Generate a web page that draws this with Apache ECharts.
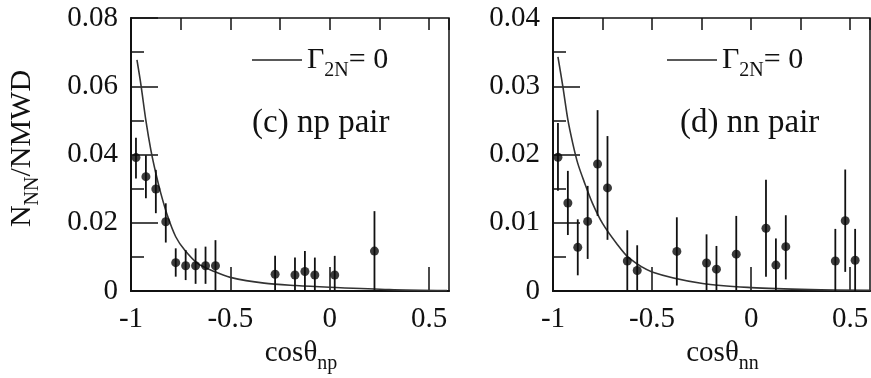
<!DOCTYPE html>
<html>
<head>
<meta charset="utf-8">
<title>N_NN/NMWD vs cos theta</title>
<script src="https://cdn.jsdelivr.net/npm/echarts@6/dist/echarts.min.js"></script>
<style>
  html, body { margin: 0; padding: 0; background: #fff; }
  #chart { width: 871px; height: 378px; }
</style>
</head>
<body>
<div id="chart"></div>
<script>
// (c) np pair -- data points (bin centres), values and error bar ends
const npX  = [-0.975, -0.925, -0.875, -0.825, -0.775, -0.725, -0.675, -0.625, -0.575, -0.275, -0.175, -0.125, -0.075, 0.025, 0.225];
const npY  = [0.0391, 0.0335, 0.0299, 0.0203, 0.0083, 0.0074, 0.0074, 0.0074, 0.0074, 0.0049, 0.0047, 0.0057, 0.0047, 0.0047, 0.0117];
const npLo = [0.0330, 0.0272, 0.0228, 0.0142, 0.0042, 0.0032, 0.0021, 0.0021, 0.0, 0.0, 0.0, 0.0, 0.0, 0.0, 0.0];
const npHi = [0.0449, 0.0398, 0.0355, 0.0257, 0.0125, 0.0120, 0.0125, 0.0130, 0.0149, 0.0103, 0.0098, 0.0117, 0.0098, 0.0103, 0.0234];
// Gamma_2N = 0 curve
const npCurveX = [-0.970, -0.950, -0.925, -0.900, -0.875, -0.850, -0.815, -0.775, -0.730, -0.665, -0.580, -0.500, -0.330, -0.170, 0.0, 0.3, 0.59];
const npCurveY = [0.0677, 0.0604, 0.0499, 0.0413, 0.0345, 0.0286, 0.0218, 0.0159, 0.0120, 0.0081, 0.0057, 0.0040, 0.0023, 0.0016, 0.0011, 0.0004, 0.0001];

// (d) nn pair
const nnX  = [-0.975, -0.925, -0.875, -0.825, -0.775, -0.725, -0.625, -0.575, -0.375, -0.225, -0.175, -0.075, 0.075, 0.125, 0.175, 0.425, 0.475, 0.525];
const nnY  = [0.0196, 0.0129, 0.0064, 0.0102, 0.0186, 0.0151, 0.0044, 0.0030, 0.0058, 0.0041, 0.0032, 0.0054, 0.0092, 0.0038, 0.0065, 0.0044, 0.0103, 0.0045];
const nnLo = [0.0147, 0.0082, 0.0023, 0.0047, 0.0110, 0.0075, 0.0, 0.0, 0.0008, 0.0, 0.0, 0.0, 0.0021, 0.0, 0.0017, 0.0, 0.0028, 0.0];
const nnHi = [0.0246, 0.0176, 0.0105, 0.0154, 0.0265, 0.0227, 0.0089, 0.0067, 0.0108, 0.0083, 0.0066, 0.0110, 0.0163, 0.0077, 0.0111, 0.0091, 0.0178, 0.0091];
const nnCurveX = [-0.975, -0.950, -0.925, -0.900, -0.875, -0.840, -0.800, -0.750, -0.680, -0.615, -0.500, -0.245, 0.0, 0.3, 0.6];
const nnCurveY = [0.0343, 0.0299, 0.0251, 0.0216, 0.0187, 0.0158, 0.0128, 0.0099, 0.0070, 0.0048, 0.0028, 0.0011, 0.0005, 0.0002, 0.0001];

// axes
const xMin = -1, xMax = 0.6, xMajor = 0.5, xMinor = 0.25;
const npYMax = 0.08, npYStep = 0.02;
const nnYMax = 0.04, nnYStep = 0.01;

const curveName = 'Γ2N= 0';
const FONT = 'Liberation Serif';
const INK = '#111';

function zip(a, b) {
  return a.map((v, i) => [v, b[i]]);
}

function xAxes(gridIndex, subscript) {
  return [
    {
      type: 'value', gridIndex: gridIndex, min: xMin, max: xMax, interval: xMajor,
      axisLine: { onZero: false, lineStyle: { color: INK, width: 2 } },
      axisTick: { inside: true, length: 24, lineStyle: { color: INK, width: 1.5 } },
      axisLabel: { showMaxLabel: false, margin: 14, color: INK, fontFamily: FONT, fontSize: 29 },
      splitLine: { show: false },
      name: 'cosθ{s|' + subscript + '}',
      nameLocation: 'middle',
      nameGap: 42,
      nameTextStyle: {
        color: INK, fontFamily: FONT, fontSize: 29, padding: [0, 0, 0, 22],
        rich: { s: { fontFamily: FONT, fontSize: 20, color: INK, padding: [20, 0, 0, 0] } }
      }
    },
    {
      // minor ticks only
      type: 'value', gridIndex: gridIndex, min: xMin, max: xMax, interval: xMinor,
      axisLine: { show: false, onZero: false },
      axisTick: { inside: true, length: 12, lineStyle: { color: INK, width: 1.5 } },
      axisLabel: { show: false },
      splitLine: { show: false }
    }
  ];
}

function yAxis(gridIndex, max, step, withName) {
  const ax = {
    type: 'value', gridIndex: gridIndex, min: 0, max: max, interval: step,
    axisLine: { show: true, onZero: false, lineStyle: { color: INK, width: 2 } },
    axisTick: { inside: true, length: 27, lineStyle: { color: INK, width: 1.5 } },
    minorTick: { show: true, splitNumber: 2, length: 13, lineStyle: { color: INK, width: 1.5 } },
    axisLabel: { margin: 13, color: INK, fontFamily: FONT, fontSize: 29 },
    splitLine: { show: false }
  };
  if (withName) {
    ax.name = 'N{s|NN}/NMWD';
    ax.nameLocation = 'middle';
    ax.nameGap = 88;
    ax.nameTextStyle = {
      color: INK, fontFamily: FONT, fontSize: 30, padding: [0, 0, 0, 12],
      rich: { s: { fontFamily: FONT, fontSize: 20, color: INK, padding: [22, 0, 0, 0] } }
    };
  }
  return ax;
}

// vertical error bars, drawn through the axis scales
function errorSeries(xi, yi, xs, lo, hi) {
  return {
    type: 'custom',
    xAxisIndex: xi, yAxisIndex: yi,
    data: xs.map((x, i) => [x, lo[i], hi[i]]),
    clip: true,
    renderItem: function (params, api) {
      const a = api.coord([api.value(0), api.value(1)]);
      const b = api.coord([api.value(0), api.value(2)]);
      return {
        type: 'line',
        shape: { x1: a[0], y1: a[1], x2: b[0], y2: b[1] },
        style: { stroke: INK, lineWidth: 1.8 }
      };
    },
    z: 3
  };
}

function panelSeries(xi, yi, xs, ys, lo, hi, cx, cy) {
  return [
    {
      name: curveName, type: 'line', xAxisIndex: xi, yAxisIndex: yi,
      data: zip(cx, cy), smooth: 0.3,
      symbol: 'none', lineStyle: { color: '#333', width: 1.6 }, z: 2
    },
    errorSeries(xi, yi, xs, lo, hi),
    {
      type: 'scatter', xAxisIndex: xi, yAxisIndex: yi,
      data: zip(xs, ys), symbol: 'circle', symbolSize: 9,
      itemStyle: { color: '#0a0a0a' }, z: 4
    }
  ];
}

function legendAt(left) {
  return {
    left: left, top: 45, padding: 0,
    data: [curveName],
    icon: 'rect', itemWidth: 50, itemHeight: 1.6,
    itemStyle: { color: '#222' },
    selectedMode: false,
    formatter: function () { return '{g|Γ}{s|2N}{g|= 0}'; },
    textStyle: {
      color: INK, fontFamily: FONT,
      rich: {
        g: { fontFamily: FONT, fontSize: 30, color: INK },
        s: { fontFamily: FONT, fontSize: 20, color: INK, padding: [22, 0, 0, 0] }
      }
    }
  };
}

const chart = echarts.init(document.getElementById('chart'), null, { renderer: 'canvas' });

const gridBase = { top: 18, height: 273, show: true, borderColor: INK, borderWidth: 1.5, backgroundColor: 'transparent', outerBoundsMode: 'none', containLabel: false };

const option = {
  animation: false,
  backgroundColor: '#fff',
  grid: [
    Object.assign({ left: 131, width: 318 }, gridBase),
    Object.assign({ left: 553, width: 317 }, gridBase)
  ],
  title: [
    { text: '(c) np pair', left: 252, top: 107, padding: 0, textStyle: { fontFamily: FONT, fontSize: 33, fontWeight: 'normal', color: INK } },
    { text: '(d) nn pair', left: 680, top: 107, padding: 0, textStyle: { fontFamily: FONT, fontSize: 33, fontWeight: 'normal', color: INK } }
  ],
  legend: [legendAt(252), legendAt(667)],
  xAxis: xAxes(0, 'np').concat(xAxes(1, 'nn')),
  yAxis: [
    yAxis(0, npYMax, npYStep, true),
    yAxis(1, nnYMax, nnYStep, false)
  ],
  series: []
    .concat(panelSeries(0, 0, npX, npY, npLo, npHi, npCurveX, npCurveY))
    .concat(panelSeries(2, 1, nnX, nnY, nnLo, nnHi, nnCurveX, nnCurveY))
};

chart.setOption(option);
</script>
</body>
</html>
